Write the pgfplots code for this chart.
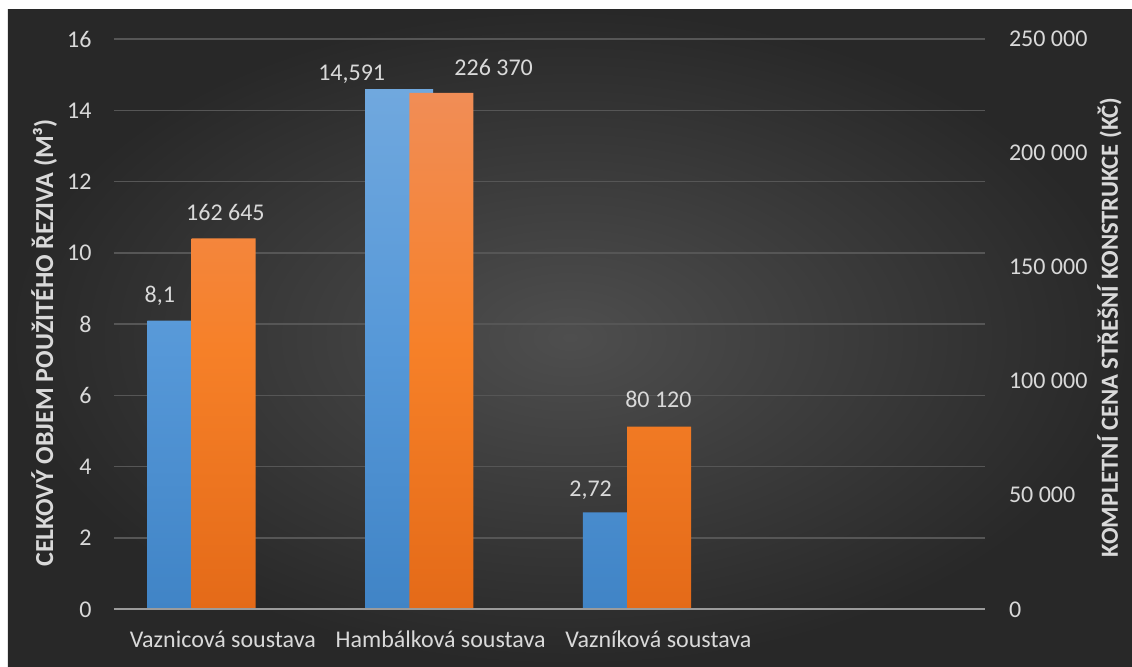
\documentclass[border=0pt]{standalone}
\usepackage{pgfplots}
\pgfplotsset{compat=1.18}
\usepackage{pgfplotstable}
\usepackage{fontspec}
\setmainfont{Carlito}
\definecolor{bgin}{RGB}{78,78,78}
\definecolor{bgout}{RGB}{40,40,40}
\definecolor{gridc}{RGB}{86,86,86}
\definecolor{basec}{RGB}{155,155,155}
\definecolor{txt}{RGB}{217,217,217}
\definecolor{blT}{RGB}{112,168,222}
\definecolor{blM}{RGB}{86,152,216}
\definecolor{blB}{RGB}{64,132,198}
\definecolor{orT}{RGB}{241,141,86}
\definecolor{orM}{RGB}{246,128,40}
\definecolor{orB}{RGB}{228,106,24}

% dx, dy: label offsets (pt) from the bar's top at the category centre
\pgfplotstableread{
x y dx dy
0 8.1 -31.55 9.2
1 14.591 -44.45 4.2
2 2.72 -33.9 7.7
}\volume
\pgfplotstableread{
x y dx dy
0 162645 1.25 8.7
1 226370 26.5 8.95
2 80120 0 9.7
}\price

\pgfplotsset{
  basestyle/.style={
    scale only axis, width=435.5pt, height=285.15pt,
    xmin=-0.5, xmax=3.5,
    axis line style={draw=none},
    major tick length=0pt,
    tick label style={text=txt, font=\fontsize{12}{14}\selectfont},
    /pgf/number format/assume math mode=true,
  },
  lbl/.style={
    nodes near coords,
    point meta=y,
    visualization depends on={\thisrow{dx} \as \dx},
    visualization depends on={\thisrow{dy} \as \dy},
    every node near coord/.append style={anchor=base, xshift=\dx pt, yshift=\dy pt,
      text=txt, font=\fontsize{12}{14}\selectfont},
  },
}

\begin{document}
\begin{tikzpicture}
\path[use as bounding box] (-57pt,-28.35pt) rectangle (509pt,304.65pt);
\fill[white] (-57pt,-28.35pt) rectangle (509pt,304.65pt);
\shade[inner color=bgin, outer color=bgout] (-53pt,-28.35pt) rectangle (509pt,300.15pt);

% primary axis: volume (blue bars)
\begin{axis}[basestyle,
  ymin=0, ymax=16, ytick={0,2,4,6,8,10,12,14,16},
  xtick={0,1,2},
  xticklabels={Vaznicová soustava, Hambálková soustava, Vazníková soustava},
  ymajorgrids, grid style={gridc, line width=0.75pt},
  yticklabel style={anchor=east, xshift=-7.7pt},
  xticklabel style={anchor=base, yshift=-18.9pt},
  ylabel={CELKOVÝ OBJEM POUŽITÉHO ŘEZIVA (M³)},
  ylabel style={at={(axis description cs:-0.070,0.467)}, anchor=base,
    text=txt, font=\fontsize{13}{15}\selectfont\bfseries},
]
\addplot[ybar, bar width=34pt, bar shift=-20.7pt, draw=none,
  top color=blT, bottom color=blB, middle color=blM]
  table[x=x, y=y] {\volume};
\end{axis}

% secondary axis: price (orange bars)
\begin{axis}[basestyle, clip=false,
  ymin=0, ymax=250000, ytick={0,50000,100000,150000,200000,250000},
  yticklabel pos=right, scaled y ticks=false,
  yticklabel style={anchor=west, xshift=8.5pt, /pgf/number format/.cd, fixed, precision=0, 1000 sep={\ }},
  xtick=\empty,
  ylabel={KOMPLETNÍ CENA STŘEŠNÍ KONSTRUKCE (KČ)},
  ylabel style={at={(axis description cs:1.1527,0.494)}, anchor=base,
    text=txt, font=\fontsize{12.3}{14}\selectfont\bfseries},
]
\addplot[ybar, bar width=32pt, bar shift=0.4pt, draw=none,
  top color=orT, bottom color=orB, middle color=orM,
  lbl, nodes near coords={\pgfmathprintnumber[fixed, precision=0, 1000 sep={\ }]{\pgfplotspointmeta}}]
  table[x=x, y=y] {\price};
\draw[basec, line width=1.1pt] (rel axis cs:0,0) -- (rel axis cs:1,0);
\end{axis}

% labels of the blue bars, drawn on top
\begin{axis}[basestyle, clip=false, ymin=0, ymax=16, xtick=\empty, ytick=\empty]
\addplot[draw=none, mark=none,
  lbl, nodes near coords={\pgfmathprintnumber[fixed, precision=3, use comma]{\pgfplotspointmeta}}]
  table[x=x, y=y] {\volume};
\end{axis}
\end{tikzpicture}
\end{document}
